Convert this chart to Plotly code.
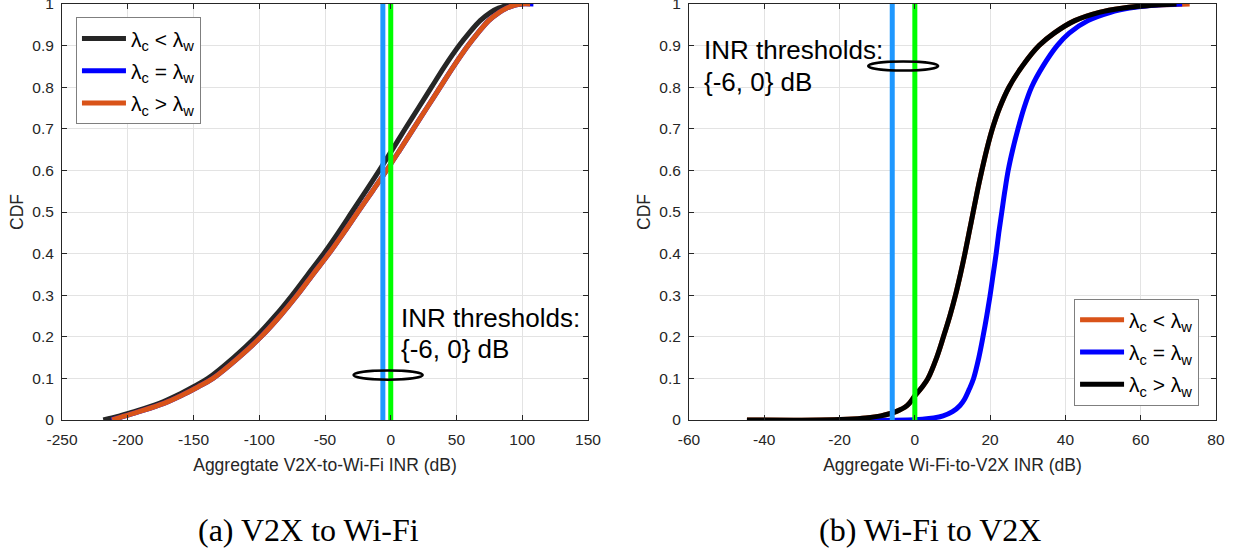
import plotly.graph_objects as go

# ---------------- data ----------------
thresholds = [-6, 0]
threshold_colors = ["#1F98FF", "#00FF00"]

# (a) V2X to Wi-Fi
a_black_y = [0, 0.005, 0.01, 0.02, 0.04, 0.06, 0.08, 0.1, 0.15, 0.2, 0.25, 0.3, 0.35, 0.4, 0.45, 0.5,
             0.55, 0.6, 0.65, 0.7, 0.75, 0.8, 0.85, 0.9, 0.93, 0.96, 0.98, 0.99, 0.997, 1.0, 1.0]
a_black_x = [-218.6, -212, -206, -195, -176, -162, -150, -139, -119.5, -102.5, -88, -75, -63, -51, -40, -29.5,
             -19, -8.7, 1.2, 11, 21, 31, 41, 52, 59.5, 68, 76, 82, 89, 95, 100]
a_blue_y = [0, 0.005, 0.01, 0.02, 0.04, 0.06, 0.08, 0.1, 0.15, 0.2, 0.25, 0.3, 0.35, 0.4, 0.45, 0.5,
            0.55, 0.6, 0.65, 0.7, 0.75, 0.8, 0.85, 0.9, 0.93, 0.96, 0.98, 0.99, 0.997, 1.0, 1.0]
a_blue_x = [-212.5, -207, -202, -191.5, -172.5, -158.5, -146.3, -135.2, -115.7, -98.7, -84.2, -71.2, -59.2, -47, -35.8, -25,
            -14, -3.2, 7.1, 17.2, 27.4, 37.6, 47.8, 58.8, 66.2, 74.5, 82.5, 88, 94, 99, 108.5]
a_orange_y = [0, 0.005, 0.01, 0.02, 0.04, 0.06, 0.08, 0.1, 0.15, 0.2, 0.25, 0.3, 0.35, 0.4, 0.45, 0.5,
              0.55, 0.6, 0.65, 0.7, 0.75, 0.8, 0.85, 0.9, 0.93, 0.96, 0.98, 0.99, 0.997, 1.0, 1.0]
a_orange_x = [-212, -207, -202, -191.5, -172.5, -158.5, -146.3, -135.2, -115.7, -98.7, -84.2, -71.2, -59.2, -47, -35.8, -25,
              -14, -3.2, 7.1, 17.2, 27.4, 37.6, 47.8, 58.8, 66.2, 74.5, 82.5, 88, 94, 99, 106]

# (b) Wi-Fi to V2X
b_orange_y = [0, 0, 0.002, 0.005, 0.01, 0.02, 0.035, 0.058, 0.08, 0.1, 0.15, 0.2, 0.25, 0.3, 0.35, 0.4, 0.45,
              0.5, 0.55, 0.6, 0.65, 0.7, 0.75, 0.8, 0.85, 0.9, 0.93, 0.96, 0.98, 0.99, 0.996, 1.0]
b_orange_x = [-44.6, -25, -18, -13, -9, -5, -2, 0, 2, 3.5, 5.8, 7.6, 9.3, 10.8, 12.1, 13.3, 14.4,
              15.5, 16.6, 17.8, 19.1, 20.6, 22.5, 25, 28.5, 33, 37, 42.5, 49, 55, 61.5, 73]
b_blue_y = [0, 0, 0.002, 0.005, 0.01, 0.02, 0.035, 0.05, 0.075, 0.1, 0.15, 0.2, 0.25, 0.3, 0.35, 0.4, 0.45,
            0.5, 0.55, 0.6, 0.65, 0.7, 0.75, 0.8, 0.85, 0.9, 0.93, 0.96, 0.98, 0.99, 0.996, 1.0]
b_blue_x = [-14.5, -2, 2, 5, 7.5, 10, 12, 13.2, 14.5, 15.6, 17, 18.1, 19.1, 20, 20.8, 21.6, 22.3,
            23.1, 23.9, 24.8, 26, 27.4, 29, 31, 34, 37.8, 41, 46, 52, 57, 62, 71]
b_black_y = [0, 0, 0.002, 0.005, 0.01, 0.02, 0.035, 0.058, 0.08, 0.1, 0.15, 0.2, 0.25, 0.3, 0.35, 0.4, 0.45,
             0.5, 0.55, 0.6, 0.65, 0.7, 0.75, 0.8, 0.85, 0.9, 0.93, 0.96, 0.98, 0.99, 0.996, 1.0]
b_black_x = [-44.6, -25, -18, -13, -9, -5, -2, 0, 2, 3.5, 5.8, 7.6, 9.3, 10.8, 12.1, 13.3, 14.4,
             15.5, 16.6, 17.8, 19.1, 20.6, 22.5, 25, 28.5, 33, 37, 42.5, 49, 55, 61.5, 69.5]

lab_lt = "λ<sub>c</sub> &lt; λ<sub>w</sub>"
lab_eq = "λ<sub>c</sub> = λ<sub>w</sub>"
lab_gt = "λ<sub>c</sub> &gt; λ<sub>w</sub>"

a_xticks = [-250, -200, -150, -100, -50, 0, 50, 100, 150]
b_xticks = [-60, -40, -20, 0, 20, 40, 60, 80]
y_ticks = [0, 0.1, 0.2, 0.3, 0.4, 0.5, 0.6, 0.7, 0.8, 0.9, 1]

ORANGE = "#D95319"
BLUE = "#0000FF"
BLACK_A = "#262626"
BLACK_B = "#000000"
LW = 5

fig = go.Figure()

for xs, ys, col, name, g in [
    (a_black_x, a_black_y, BLACK_A, lab_lt, "a1"),
    (a_blue_x, a_blue_y, BLUE, lab_eq, "a2"),
    (a_orange_x, a_orange_y, ORANGE, lab_gt, "a3"),
]:
    fig.add_trace(go.Scatter(x=xs, y=ys, mode="lines", name=name,
                             line=dict(color=col, width=LW, shape="spline", smoothing=1.0),
                             xaxis="x", yaxis="y", legend="legend", legendgroup=g))

for xs, ys, col, name, g in [
    (b_orange_x, b_orange_y, ORANGE, lab_lt, "b1"),
    (b_blue_x, b_blue_y, BLUE, lab_eq, "b2"),
    (b_black_x, b_black_y, BLACK_B, lab_gt, "b3"),
]:
    fig.add_trace(go.Scatter(x=xs, y=ys, mode="lines", name=name,
                             line=dict(color=col, width=LW, shape="spline", smoothing=1.0),
                             xaxis="x2", yaxis="y2", legend="legend2", legendgroup=g))

for xa, ya in [("x", "y"), ("x2", "y2")]:
    for t, c in zip(thresholds, threshold_colors):
        fig.add_trace(go.Scatter(x=[t, t], y=[0, 1], mode="lines", showlegend=False,
                                 line=dict(color=c, width=LW), xaxis=xa, yaxis=ya,
                                 hoverinfo="skip"))

fig.add_shape(type="circle", xref="x", yref="y", x0=-28.3, x1=24.3, y0=0.097, y1=0.119,
              line=dict(color="black", width=2.5))
fig.add_shape(type="circle", xref="x2", yref="y2", x0=-12.4, x1=6.2, y0=0.840, y1=0.862,
              line=dict(color="black", width=2.5))

TXT = dict(family="Liberation Sans, Arial, sans-serif", size=26, color="black")
ann = []
for xr, yr, x, y1, y2 in [("x", "y", 6.3, 0.246, 0.171), ("x2", "y2", -56.6, 0.889, 0.813)]:
    ann.append(dict(xref=xr, yref=yr, x=x, y=y1, text="INR thresholds:", showarrow=False,
                    xanchor="left", yanchor="middle", font=TXT))
    ann.append(dict(xref=xr, yref=yr, x=x, y=y2, text="{-6, 0} dB", showarrow=False,
                    xanchor="left", yanchor="middle", font=TXT))

CAP = dict(family="Liberation Serif, Times New Roman, serif", size=32, color="black")
ann.append(dict(xref="paper", yref="paper", x=0.2132, y=-0.2644, text="(a) V2X to Wi-Fi",
                showarrow=False, xanchor="center", yanchor="middle", font=CAP))
ann.append(dict(xref="paper", yref="paper", x=0.752, y=-0.2644, text="(b) Wi-Fi to V2X",
                showarrow=False, xanchor="center", yanchor="middle", font=CAP))

AX = "#262626"
TICKF = dict(family="Liberation Sans, Arial, sans-serif", size=15.5, color=AX)
TITF = dict(family="Liberation Sans, Arial, sans-serif", size=17.5, color=AX)

def xax(domain, rng, ticks, title, anchor):
    return dict(domain=domain, range=rng, tickvals=ticks, ticktext=[str(t) for t in ticks],
                showgrid=True, gridcolor="#e3e3e3", gridwidth=1, zeroline=False,
                showline=True, linecolor=AX, linewidth=1, mirror="ticks",
                ticks="inside", ticklen=5, tickcolor=AX, tickfont=TICKF,
                ticklabelstandoff=5, ticklabeloverflow="allow",
                title=dict(text=title, font=TITF, standoff=12), anchor=anchor)

def yax(anchor):
    return dict(domain=[0, 1], range=[0, 1], tickvals=y_ticks, ticktext=[f"{t:g}" for t in y_ticks],
                showgrid=True, gridcolor="#e3e3e3", gridwidth=1, zeroline=False,
                showline=True, linecolor=AX, linewidth=1, mirror="ticks",
                ticks="inside", ticklen=5, tickcolor=AX, tickfont=TICKF,
                ticklabelstandoff=4, ticklabeloverflow="allow",
                title=dict(text="CDF", font=TITF, standoff=4), anchor=anchor)

LEGF = dict(family="Liberation Sans, Arial, sans-serif", size=21, color="black")
fig.update_layout(
    width=1241, height=554,
    margin=dict(l=62, r=25, t=4, b=134, autoexpand=False),
    paper_bgcolor="white", plot_bgcolor="white",
    xaxis=xax([0, 0.4558], [-250, 150], a_xticks, "Aggregtate V2X-to-Wi-Fi INR (dB)", "y"),
    yaxis=yax("x"),
    xaxis2=xax([0.5433, 1], [-60, 80], b_xticks, "Aggregate Wi-Fi-to-V2X INR (dB)", "y2"),
    yaxis2=yax("x2"),
    legend=dict(x=0.0121, y=0.968, xanchor="left", yanchor="top", bgcolor="white",
                bordercolor="#7f7f7f", borderwidth=1, font=LEGF, tracegroupgap=2,
                itemwidth=44),
    legend2=dict(x=0.877, y=0.292, xanchor="left", yanchor="top", bgcolor="white",
                 bordercolor="#7f7f7f", borderwidth=1, font=LEGF, tracegroupgap=2,
                 itemwidth=44),
    annotations=ann,
    showlegend=True,
)

fig.write_html("out.html", config={"displayModeBar": False},
               post_script="document.body.style.margin='0';")
